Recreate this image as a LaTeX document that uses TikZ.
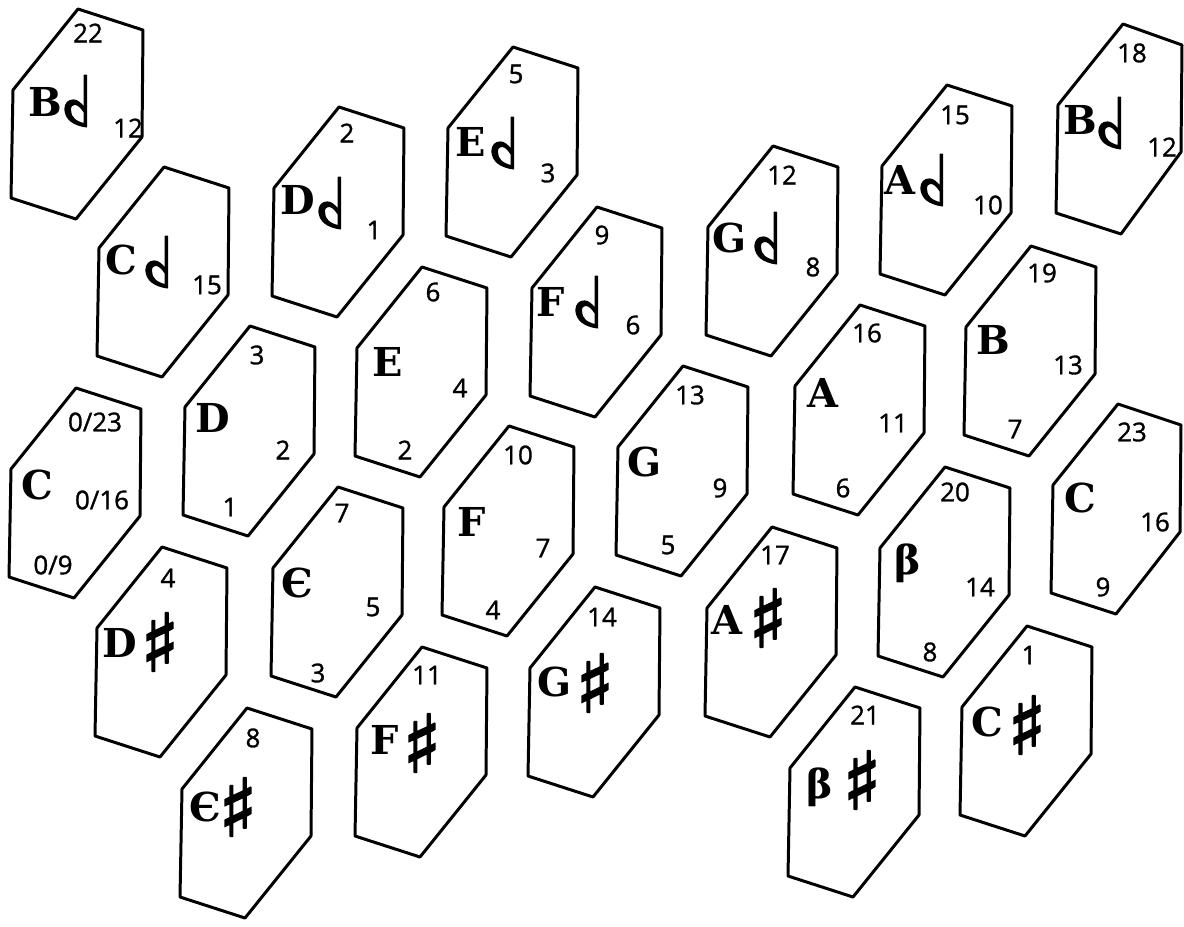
\documentclass[tikz,border=0pt]{standalone}
\usepackage{fontspec}
\setmainfont{DejaVu Serif}
\newfontfamily\numfont{Open Sans}[UprightFeatures={FakeBold=1.2}]
\newfontfamily\symfont{DejaVu Sans}[UprightFeatures={FakeBold=2.5}]
\newcommand\hexk[3][65]{\draw[keyline] (#2,#3) -- ({#2+#1},{#3+21}) -- ({#2+#1-1},{#3+128}) -- ({#2-2},{#3+210}) -- ({#2-67},{#3+189}) -- ({#2-65},{#3+81}) -- cycle;}
\newcommand\rflat{\reflectbox{♭}}
\tikzset{
  keyline/.style={line width=3pt, line join=round},
  lett/.style={font=\fontsize{40}{40}\selectfont\bfseries, inner sep=0pt},
  num/.style={font=\numfont\fontsize{26}{26}\selectfont, inner sep=0pt},
  hflat/.style={font=\symfont\fontsize{70}{70}\selectfont, inner sep=0pt},
  sharpsym/.style={font=\symfont\fontsize{80}{80}\selectfont, inner sep=0pt}
}
\begin{document}
\begin{tikzpicture}[x=1bp,y=-1bp]
\useasboundingbox (0,0) rectangle (1184,927);
% hexagonal keys
\hexk{78}{9}
\hexk{164}{167}
\hexk{339}{107}
\hexk{513}{47}
\hexk{597}{207}
\hexk{773}{146}
\hexk{947}{85}
\hexk[59]{1123}{24}
\hexk{1031}{246}
\hexk{860}{305}
\hexk[63]{1118}{404}
\hexk{945}{467}
\hexk{1027}{626}
\hexk{855}{687}
\hexk{772}{527}
\hexk{595}{587}
\hexk{683}{366}
\hexk{509}{426}
\hexk{422}{267}
\hexk{250}{326}
\hexk{76}{388}
\hexk{338}{487}
\hexk{162}{547}
\hexk{247}{708}
\hexk{422}{647}
% B half-flat (left)
\node[lett] (bb1l) at (45,102) {B};
\node[hflat] (bb1s) at (76,101) {\rflat};
\node[num] (bb1a) at (88,33) {22};
\node[num] (bb1b) at (128,128) {12};
% C half-flat
\node[lett] (cbl) at (121,260) {C};
\node[hflat] (cbs) at (157,262) {\rflat};
\node[num] (cba) at (207,285) {15};
% D half-flat
\node[lett] (dbl) at (298,200) {D};
\node[hflat] (dbs) at (330,203) {\rflat};
\node[num] (dba) at (347,133) {2};
\node[num] (dbb) at (374,230) {1};
% E half-flat
\node[lett] (ebl) at (471,142) {E};
\node[hflat] (ebs) at (503,143) {\rflat};
\node[num] (eba) at (516,74) {5};
\node[num] (ebb) at (548,173) {3};
% F half-flat
\node[lett] (fbl) at (551,302) {F};
\node[hflat] (fbs) at (587,302) {\rflat};
\node[num] (fba) at (602,235) {9};
\node[num] (fbb) at (633,325) {6};
% G half-flat
\node[lett] (gbl) at (730,238) {G};
\node[hflat] (gbs) at (766,238) {\rflat};
\node[num] (gba) at (782,175) {12};
\node[num] (gbb) at (813,267) {8};
% A half-flat
\node[lett] (abl) at (900,180) {A};
\node[hflat] (abs) at (932,180) {\rflat};
\node[num] (aba) at (955,115) {15};
\node[num] (abb) at (988,205) {10};
% B half-flat (right)
\node[lett] (bb2l) at (1080,120) {B};
\node[hflat] (bb2s) at (1110,123) {\rflat};
\node[num] (bb2a) at (1132,53) {18};
\node[num] (bb2b) at (1162,147) {12};
% B
\node[lett] (bl) at (993,340) {B};
\node[num] (ba) at (1042,273) {19};
\node[num] (bb) at (1068,365) {13};
\node[num] (bc) at (1015,429) {7};
% A
\node[lett] (al) at (823,393) {A};
\node[num] (aa) at (867,333) {16};
\node[num] (ab) at (893,423) {11};
\node[num] (ac) at (843,488) {6};
% C (right)
\node[lett] (c2l) at (1080,498) {C};
\node[num] (c2a) at (1132,432) {23};
\node[num] (c2b) at (1155,522) {16};
\node[num] (c2c) at (1103,587) {9};
% beta
\node[lett] (btl) at (908,563) {β};
\node[num] (bta) at (955,492) {20};
\node[num] (btb) at (980,587) {14};
\node[num] (btc) at (930,652) {8};
% C sharp
\node[lett] (csl) at (987,722) {C};
\node[sharpsym] (css) at (1027,725) {♯};
\node[num] (csa) at (1029,655) {1};
% beta sharp
\node[lett] (btsl) at (820,787) {β};
\node[sharpsym] (btss) at (862,780) {♯};
\node[num] (btsa) at (865,715) {21};
% A sharp
\node[lett] (asl) at (727,620) {A};
\node[sharpsym] (ass) at (768,618) {♯};
\node[num] (asa) at (775,555) {17};
% G sharp
\node[lett] (gsl) at (555,682) {G};
\node[sharpsym] (gss) at (595,683) {♯};
\node[num] (gsa) at (602,617) {14};
% G
\node[lett] (gl) at (645,462) {G};
\node[num] (ga) at (690,395) {13};
\node[num] (gb) at (720,488) {9};
\node[num] (gc) at (668,545) {5};
% F
\node[lett] (fl) at (472,522) {F};
\node[num] (fa) at (518,455) {10};
\node[num] (fb) at (543,548) {7};
\node[num] (fc) at (493,610) {4};
% E
\node[lett] (el) at (388,362) {E};
\node[num] (ea) at (433,292) {6};
\node[num] (eb) at (460,388) {4};
\node[num] (ec) at (405,450) {2};
% D
\node[lett] (dl) at (213,418) {D};
\node[num] (da) at (257,355) {3};
\node[num] (db) at (283,450) {2};
\node[num] (dc) at (230,507) {1};
% C (left)
\node[lett] (c1l) at (37,485) {C};
\node[num] (c1a) at (95,422) {0/23};
\node[num] (c1b) at (102,500) {0/16};
\node[num] (c1c) at (53,565) {0/9};
% E uncial
\node[lett] (eul) at (297,583) {Є};
\node[num] (eua) at (342,513) {7};
\node[num] (eub) at (373,607) {5};
\node[num] (euc) at (318,673) {3};
% D sharp
\node[lett] (dsl) at (120,643) {D};
\node[sharpsym] (dss) at (160,642) {♯};
\node[num] (dsa) at (168,578) {4};
% E uncial sharp
\node[lett] (eusl) at (205,807) {Є};
\node[sharpsym] (euss) at (238,807) {♯};
\node[num] (eusa) at (253,738) {8};
% F sharp
\node[lett] (fsl) at (385,740) {F};
\node[sharpsym] (fss) at (422,743) {♯};
\node[num] (fsa) at (427,675) {11};
\end{tikzpicture}
\end{document}
